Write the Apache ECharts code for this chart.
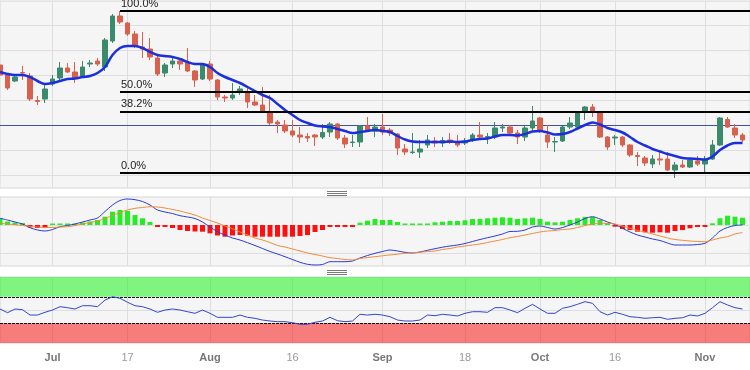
<!DOCTYPE html>
<html><head><meta charset="utf-8">
<script src="https://cdn.jsdelivr.net/npm/echarts@6/dist/echarts.min.js"></script>
<style>html,body{margin:0;padding:0;background:#fff}#c{width:750px;height:370px}</style>
</head><body><div id="c"></div>
<script>
// trading days (Jun 22 - Nov 8 2023) + one empty slot at the right edge
const categories = [
'2023-06-22','2023-06-23','2023-06-26','2023-06-27','2023-06-28','2023-06-29','2023-06-30',
'2023-07-03','2023-07-04','2023-07-05','2023-07-06','2023-07-07','2023-07-10','2023-07-11','2023-07-12','2023-07-13','2023-07-14',
'2023-07-17','2023-07-18','2023-07-19','2023-07-20','2023-07-21','2023-07-24','2023-07-25','2023-07-26','2023-07-27','2023-07-28','2023-07-31',
'2023-08-01','2023-08-02','2023-08-03','2023-08-04','2023-08-07','2023-08-08','2023-08-09','2023-08-10','2023-08-11','2023-08-14','2023-08-15',
'2023-08-16','2023-08-17','2023-08-18','2023-08-21','2023-08-22','2023-08-23','2023-08-24','2023-08-25','2023-08-28','2023-08-29','2023-08-30','2023-08-31',
'2023-09-01','2023-09-04','2023-09-05','2023-09-06','2023-09-07','2023-09-08','2023-09-11','2023-09-12','2023-09-13','2023-09-14','2023-09-15',
'2023-09-18','2023-09-19','2023-09-20','2023-09-21','2023-09-22','2023-09-25','2023-09-26','2023-09-27','2023-09-28','2023-09-29',
'2023-10-02','2023-10-03','2023-10-04','2023-10-05','2023-10-06','2023-10-09','2023-10-10','2023-10-11','2023-10-12','2023-10-13',
'2023-10-16','2023-10-17','2023-10-18','2023-10-19','2023-10-20','2023-10-23','2023-10-24','2023-10-25','2023-10-26','2023-10-27','2023-10-30','2023-10-31',
'2023-11-01','2023-11-02','2023-11-03','2023-11-06','2023-11-07','2023-11-08',
'2023-11-09'
];
const opens = [
0.6740,0.6700,0.6676,0.6710,0.6696,0.6598,0.6604,0.6664,0.6688,0.6728,
0.6712,0.6696,0.6744,0.6756,0.6732,0.6836,0.6936,0.6908,0.6864,0.6812,
0.6804,0.6768,0.6708,0.6744,0.6756,0.6748,0.6716,0.6684,0.6744,0.6680,
0.6612,0.6608,0.6636,0.6632,0.6592,0.6580,0.6548,0.6512,0.6500,0.6476,
0.6460,0.6454,0.6460,0.6452,0.6472,0.6504,0.6448,0.6430,0.6432,0.6496,
0.6476,0.6492,0.6480,0.6464,0.6404,0.6390,0.6392,0.6420,0.6436,0.6428,
0.6440,0.6432,0.6428,0.6440,0.6460,0.6450,0.6452,0.6488,0.6492,0.6468,
0.6452,0.6488,0.6528,0.6460,0.6432,0.6436,0.6492,0.6492,0.6552,0.6572,
0.6548,0.6452,0.6448,0.6452,0.6420,0.6378,0.6368,0.6344,0.6364,0.6364,
0.6320,0.6340,0.6332,0.6356,0.6344,0.6364,0.6420,0.6522,0.6488,0.6460];
const closes = [
0.6700,0.6648,0.6692,0.6708,0.6604,0.6594,0.6644,0.6684,0.6728,0.6712,
0.6688,0.6732,0.6748,0.6744,0.6840,0.6936,0.6912,0.6864,0.6820,0.6804,
0.6772,0.6704,0.6740,0.6756,0.6744,0.6716,0.6680,0.6740,0.6684,0.6612,
0.6608,0.6620,0.6644,0.6592,0.6580,0.6552,0.6508,0.6504,0.6476,0.6460,
0.6452,0.6448,0.6452,0.6470,0.6504,0.6448,0.6424,0.6432,0.6496,0.6480,
0.6492,0.6472,0.6468,0.6408,0.6392,0.6392,0.6404,0.6440,0.6428,0.6438,
0.6430,0.6420,0.6436,0.6460,0.6452,0.6454,0.6488,0.6492,0.6468,0.6452,
0.6488,0.6516,0.6476,0.6432,0.6434,0.6492,0.6508,0.6548,0.6572,0.6552,
0.6452,0.6412,0.6452,0.6420,0.6380,0.6374,0.6348,0.6364,0.6360,0.6320,
0.6340,0.6332,0.6360,0.6344,0.6364,0.6420,0.6528,0.6492,0.6460,0.6440];
const lows = [
0.6696,0.6640,0.6672,0.6680,0.6596,0.6580,0.6588,0.6656,0.6680,0.6708,
0.6668,0.6688,0.6732,0.6736,0.6716,0.6828,0.6904,0.6856,0.6808,0.6768,
0.6760,0.6696,0.6692,0.6728,0.6720,0.6712,0.6652,0.6680,0.6676,0.6600,
0.6592,0.6600,0.6620,0.6568,0.6576,0.6548,0.6500,0.6468,0.6468,0.6452,
0.6428,0.6432,0.6416,0.6444,0.6452,0.6440,0.6408,0.6412,0.6412,0.6472,
0.6452,0.6460,0.6456,0.6380,0.6380,0.6384,0.6368,0.6408,0.6412,0.6412,
0.6424,0.6412,0.6420,0.6432,0.6444,0.6424,0.6444,0.6472,0.6464,0.6424,
0.6436,0.6472,0.6468,0.6408,0.6392,0.6432,0.6484,0.6488,0.6520,0.6532,
0.6448,0.6400,0.6420,0.6412,0.6372,0.6336,0.6336,0.6328,0.6340,0.6316,
0.6288,0.6328,0.6328,0.6336,0.6308,0.6360,0.6416,0.6488,0.6448,0.6432];
const highs = [
0.6748,0.6708,0.6700,0.6736,0.6708,0.6616,0.6668,0.6700,0.6752,0.6748,
0.6752,0.6756,0.6760,0.6768,0.6848,0.6944,0.6956,0.6912,0.6876,0.6872,
0.6848,0.6776,0.6748,0.6768,0.6768,0.6808,0.6720,0.6748,0.6756,0.6684,
0.6620,0.6668,0.6656,0.6648,0.6620,0.6652,0.6620,0.6520,0.6520,0.6520,
0.6492,0.6468,0.6464,0.6504,0.6512,0.6508,0.6460,0.6460,0.6500,0.6532,
0.6504,0.6544,0.6488,0.6468,0.6424,0.6468,0.6440,0.6460,0.6452,0.6452,
0.6468,0.6460,0.6448,0.6468,0.6512,0.6468,0.6512,0.6504,0.6500,0.6480,
0.6496,0.6576,0.6532,0.6500,0.6452,0.6496,0.6532,0.6552,0.6576,0.6584,
0.6552,0.6456,0.6460,0.6456,0.6424,0.6392,0.6376,0.6380,0.6392,0.6392,
0.6352,0.6360,0.6364,0.6376,0.6376,0.6440,0.6532,0.6532,0.6504,0.6468];
const ema = [
0.6712,0.6704,0.6700,0.6700,0.6692,0.6676,0.6664,0.6668,0.6676,0.6684,
0.6686,0.6692,0.6696,0.6708,0.6732,0.6780,0.6808,0.6816,0.6816,0.6808,
0.6792,0.6780,0.6776,0.6772,0.6764,0.6752,0.6744,0.6744,0.6732,0.6708,
0.6692,0.6680,0.6668,0.6652,0.6636,0.6620,0.6608,0.6584,0.6560,0.6540,
0.6520,0.6508,0.6498,0.6494,0.6492,0.6484,0.6476,0.6468,0.6472,0.6476,
0.6480,0.6476,0.6472,0.6456,0.6442,0.6434,0.6432,0.6432,0.6432,0.6432,
0.6434,0.6432,0.6434,0.6440,0.6444,0.6446,0.6454,0.6460,0.6460,0.6458,
0.6464,0.6474,0.6476,0.6470,0.6462,0.6464,0.6472,0.6486,0.6500,0.6510,
0.6502,0.6488,0.6480,0.6470,0.6452,0.6432,0.6418,0.6404,0.6394,0.6384,
0.6376,0.6368,0.6366,0.6364,0.6362,0.6374,0.6400,0.6418,0.6428,0.6428];
// MACD panel (pips)
const macdLine = [
6.7,5,3,1,-2.7,-5,-6,-4.5,-1.7,-0.5,
1,3,5,7,13.5,20,24.5,26,25.3,23.5,
20,15,13,11.5,9.3,8,6.5,3,-2,-6.7,
-10,-13,-15,-17.7,-20.5,-23.5,-26.5,-29,-31.7,-34.5,
-37.3,-39.3,-40,-39.5,-36.7,-36.7,-36.7,-36,-33,-30.5,
-28.3,-26.5,-25,-26,-27.3,-28,-27,-25.3,-23.7,-22.2,
-21,-20,-18.5,-16.5,-14.5,-12.7,-11,-9,-6.5,-6.3,
-5,-2,-1,-2.5,-4,-2.5,0,3,6.5,8.3,
6,3,0.5,-3.3,-7,-10,-12,-14,-15.5,-18,
-20,-20,-20,-19.5,-18.3,-13,-6,-2.5,-0.5,0];
const signalLine = [
1.7,1,0.3,-0.5,-1.3,-2,-2.5,-2.5,-2,-1.7,
-0.5,1,2.5,4,6.5,9.5,12.5,15,16.7,17.5,
18.3,18,17,15.5,14,12,10,7,4.5,2,
-1,-3.7,-7,-10,-13,-15,-17.5,-20.5,-22,-24,
-26,-28,-29.5,-31,-32.7,-33.5,-34.5,-35,-33.5,-32.5,
-31.7,-30.8,-30,-29.2,-28.3,-27.8,-27.2,-26.5,-26,-24.5,
-23.5,-22,-21,-20,-19,-17.5,-16,-14.5,-12.7,-11.5,
-10,-8.5,-7,-6,-5.5,-4.5,-4,-2.5,-0.5,1,
1.5,1.7,1,-1,-3.3,-5.5,-7,-9,-11,-13,
-14.5,-15.3,-16,-16.5,-16.7,-15,-13,-11.7,-9,-7.5];
const histogram = [
7,3.5,2.5,2,-2.5,-3,-3,1.5,1.5,1.5,
1.5,2.5,3.5,5,8.3,13.3,15,14,10,6.7,
3,-2,-2,-3,-5,-6,-6.5,-6.7,-8.3,-10.5,
-11.7,-10.5,-10,-10.7,-11.7,-11.7,-11.7,-11.7,-11.7,-11.7,
-11,-10,-7,-5,-2,-2,-2,-2,2.3,4.3,
6,5,5,3,1.5,1.5,1.5,1.5,2.7,3.3,
4,4,4.7,6,6,6.7,7.3,7.7,7.3,6,
6.7,7.3,6,3.3,2.7,3.3,5,6.7,8,8,
5,1.7,-1.7,-4,-5,-6.7,-7.3,-7.7,-7.3,-7.7,
-6,-5,-3.3,-2,-2,1.7,6.7,9.3,8.3,7.3];
const rsi = [
51.5,45.9,51.5,50.5,42.4,42.4,46.5,50,55,53.5,
51.5,56.5,56.5,55,65.1,70.1,67.7,61.7,56.5,55,
51.5,46.5,50,51.5,50,47.4,45,50,45,38.9,
38.9,38.9,42.4,38.9,37.4,34.8,33.3,32.3,32.3,30.8,
28.3,28.3,31.4,33.3,38.9,33.8,32.3,33.3,43.5,42.4,
43.5,42.4,39.8,34.8,33.3,33.3,34.8,42.4,41.4,43.5,
42.4,40.9,45,47.4,47.4,46.5,53.5,53.5,50,45.9,
52.6,58.6,51.5,45,45,52.6,55,58.6,62.6,60.1,
47.4,42.4,46.5,43.5,39.8,38.9,37.4,38.3,38.9,35.9,
37.4,38.3,42.4,40.9,45,53.5,62.6,57.6,53.5,51.5];
const tickDates = ['2023-07-03','2023-07-17','2023-08-01','2023-08-16','2023-09-01','2023-09-18','2023-10-02','2023-10-16','2023-11-01'];
const tickLabels = ['Jul','17','Aug','16','Sep','18','Oct','16','Nov'];
const fibNames = ['100.0%','50.0%','38.2%','0.0%'];
const fibLevels = [0.6956,0.6632,0.6555,0.6307];
const fibStart = '2023-07-14';
const priceGridLevels = [0.6944,0.6840,0.6736,0.6632,0.6528,0.6424,0.6320];
const currentPrice = 0.6524;
const macdGridLevels = [0,-28];
const rsiGridLevels = [50];
const rsiBands = [[70,100],[0,30]];

const FONT = 'Liberation Sans, Arial, sans-serif';
const UP = '#3a8a6c', DOWN = '#d9604c';
const candles = opens.map((o,i)=>[o, closes[i], lows[i], highs[i]]);
const lastCat = categories[categories.length-1];
const labelMap = {};
tickDates.forEach((d,i)=>labelMap[d]=tickLabels[i]);
const vLines = tickDates.map(d=>({xAxis:d}));
const gridLS = {color:'#dedede', width:1, type:'solid'};

function xAx(gi, showLabel){
  return {type:'category', gridIndex:gi, data:categories, boundaryGap:false,
    axisLine:{show:false}, axisTick:{show:false}, splitLine:{show:false},
    axisLabel: showLabel ? {
      show:true, margin:9, interval:(idx,val)=>labelMap[val]!==undefined,
      formatter:(val)=>{const t=labelMap[val]; return /^\d/.test(t)?'{d|'+t+'}':'{m|'+t+'}';},
      rich:{m:{fontFamily:FONT,fontSize:11,fontWeight:'bold',color:'#777'},
            d:{fontFamily:FONT,fontSize:11,color:'#999'}}
    } : {show:false}};
}
function yAx(gi,min,max){
  return {type:'value', gridIndex:gi, min:min, max:max, show:false, splitLine:{show:false}};
}
const gridBase = {show:true, backgroundColor:'#f5f5f5', borderColor:'#d6d6d6', borderWidth:1, left:0, right:0};

const option = {
  animation:false,
  backgroundColor:'#ffffff',
  grid:[
    Object.assign({top:1, height:187}, gridBase),
    Object.assign({top:197, height:69}, gridBase),
    Object.assign({top:277, height:66}, gridBase)
  ],
  xAxis:[xAx(0,false), xAx(1,false), xAx(2,true)],
  yAxis:[yAx(0,0.6248,0.6996), yAx(1,-41,28), yAx(2,0,100)],
  graphic:[
    {type:'rect', left:327, top:191, shape:{width:20,height:1}, style:{fill:'#7a7a7a'}},
    {type:'rect', left:327, top:193, shape:{width:20,height:1}, style:{fill:'#7a7a7a'}},
    {type:'rect', left:327, top:195, shape:{width:20,height:1}, style:{fill:'#7a7a7a'}},
    {type:'rect', left:327, top:270, shape:{width:20,height:1}, style:{fill:'#7a7a7a'}},
    {type:'rect', left:327, top:272, shape:{width:20,height:1}, style:{fill:'#7a7a7a'}},
    {type:'rect', left:327, top:274, shape:{width:20,height:1}, style:{fill:'#7a7a7a'}}
  ],
  series:[
    // price panel grid lines + current price line
    {type:'line', xAxisIndex:0, yAxisIndex:0, data:[], silent:true, z:1,
     markLine:{silent:true, z:1, symbol:['none','none'], label:{show:false}, lineStyle:gridLS,
       data: vLines.concat(priceGridLevels.map(v=>({yAxis:v})))
         .concat([{yAxis:currentPrice, lineStyle:{color:'#3f51a3', width:1, type:'solid'}}])}},
    {type:'candlestick', name:'price', xAxisIndex:0, yAxisIndex:0, z:3, barWidth:5, data:candles,
     itemStyle:{color:UP, color0:DOWN, borderColor:UP, borderColor0:DOWN, borderWidth:1}},
    {type:'line', name:'ema', xAxisIndex:0, yAxisIndex:0, z:4, data:ema, symbol:'none', smooth:0.35,
     lineStyle:{color:'#1b2fdc', width:2.5}},
    {type:'line', xAxisIndex:0, yAxisIndex:0, data:[], silent:true, z:6,
     markLine:{silent:true, z:6, symbol:['none','none'],
       lineStyle:{color:'#000', width:2, type:'solid'},
       label:{show:true, position:'insideStartTop', formatter:'{b}', distance:[1,2],
              fontFamily:FONT, fontSize:11, color:'#222'},
       data: fibLevels.map((v,k)=>[{coord:[fibStart,v], name:fibNames[k]},{coord:[lastCat,v]}])}},
    // MACD panel
    {type:'line', xAxisIndex:1, yAxisIndex:1, data:[], silent:true, z:1,
     markLine:{silent:true, z:1, symbol:['none','none'], label:{show:false}, lineStyle:gridLS,
       data: vLines.concat(macdGridLevels.map(v=>({yAxis:v})))}},
    {type:'bar', name:'hist', xAxisIndex:1, yAxisIndex:1, z:2, barWidth:5, data:histogram,
     itemStyle:{color:(p)=>p.value>=0?'#22ee22':'#ff0f0f'}},
    {type:'line', name:'macd', xAxisIndex:1, yAxisIndex:1, z:3, data:macdLine, symbol:'none', smooth:0.3,
     lineStyle:{color:'#2a3bd0', width:1}},
    {type:'line', name:'signal', xAxisIndex:1, yAxisIndex:1, z:3, data:signalLine, symbol:'none', smooth:0.3,
     lineStyle:{color:'#f28a3a', width:1}},
    // RSI panel
    {type:'line', xAxisIndex:2, yAxisIndex:2, data:[], silent:true, z:1,
     markLine:{silent:true, z:1, symbol:['none','none'], label:{show:false}, lineStyle:gridLS,
       data: vLines.concat(rsiGridLevels.map(v=>({yAxis:v})))},
     markArea:{silent:true, z:2, data:[
       [{yAxis:rsiBands[0][0], itemStyle:{color:'rgba(10,245,10,0.5)'}},{yAxis:rsiBands[0][1]}],
       [{yAxis:rsiBands[1][0], itemStyle:{color:'rgba(250,5,5,0.5)'}},{yAxis:rsiBands[1][1]}]
     ]}},
    {type:'line', name:'rsi', xAxisIndex:2, yAxisIndex:2, z:4, data:rsi, symbol:'none',
     lineStyle:{color:'#3345cc', width:1},
     markLine:{silent:true, z:3, symbol:['none','none'], label:{show:false},
       lineStyle:{color:'#111', width:1, type:[3,1]},
       data:[{yAxis:rsiBands[0][0]},{yAxis:rsiBands[1][1]}]}}
  ]
};
echarts.init(document.getElementById('c'), null, {renderer:'canvas'}).setOption(option);
</script>
</body></html>
